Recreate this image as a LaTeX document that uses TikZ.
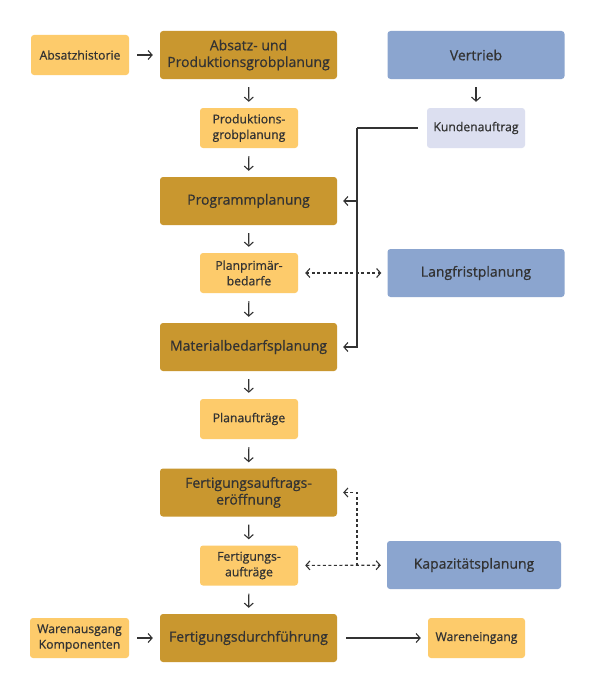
\documentclass[tikz,border=0pt]{standalone}
\usepackage{fontspec}
\setmainfont{Open Sans}
\newfontfamily\semib{Open Sans}[FakeBold=0.7]
\usetikzlibrary{arrows.meta}
\definecolor{dgold}{HTML}{C9972F}
\definecolor{lyel}{HTML}{FDCB6B}
\definecolor{bblue}{HTML}{8BA5CF}
\definecolor{lblue}{HTML}{DCDFF0}
\definecolor{txt}{HTML}{333333}
\tikzset{
  x=1pt,y=-1pt,
  bigbox/.style={fill=dgold,draw=none,rounded corners=3pt,minimum width=177pt,minimum height=48pt,align=center,text=txt,font=\semib\fontsize{14}{16.7}\selectfont,inner sep=0pt},
  bluebox/.style={bigbox,fill=bblue},
  smallbox/.style={fill=lyel,draw=none,rounded corners=3pt,minimum width=98pt,minimum height=40pt,align=center,text=txt,font=\semib\fontsize{12.2}{15.6}\selectfont,inner sep=0pt},
  lavbox/.style={smallbox,fill=lblue},
  conn/.style={draw=txt,line width=1.1pt,-{Straight Barb[length=4pt,width=9pt]}},
  dconn/.style={conn,dashed,dash pattern=on 3pt off 2.5pt,{Straight Barb[length=4pt,width=9pt]}-{Straight Barb[length=4pt,width=9pt]}},
  dconnone/.style={conn,dashed,dash pattern=on 3pt off 2.5pt},
}
\begin{document}
\begin{tikzpicture}
\useasboundingbox[fill=white] (0,0) rectangle (595,693);
\node[smallbox] (ah) at (80,55) {Absatzhistorie};
\node[bigbox] (apg) at (248.5,55) {Absatz- und\\Produktionsgrobplanung};
\node[bluebox] (vt) at (476,55) {Vertrieb};
\node[smallbox] (pg) at (249,128) {Produktions-\\grobplanung};
\node[lavbox] (ka) at (476,128) {Kundenauftrag};
\node[bigbox] (pp) at (248.5,201) {Programmplanung};
\node[smallbox] (ppb) at (249,273) {Planprimär-\\bedarfe};
\node[bluebox] (lf) at (476,273) {Langfristplanung};
\node[bigbox] (mbp) at (248.5,347) {Materialbedarfsplanung};
\node[smallbox] (pa) at (249,419) {Planaufträge};
\node[bigbox] (fae) at (248.5,492.5) {Fertigungsauftrags-\\eröffnung};
\node[smallbox] (fa) at (249,565.5) {Fertigungs-\\aufträge};
\node[bluebox,minimum width=174pt] (kp) at (474,565) {Kapazitätsplanung};
\node[smallbox,minimum width=99pt] (wk) at (79.5,638) {Warenausgang\\Komponenten};
\node[bigbox] (fd) at (248.5,638) {Fertigungsdurchführung};
\node[smallbox,minimum width=97pt] (we) at (476.5,638) {Wareneingang};
% vertical arrows
\draw[conn,shorten <=8pt,shorten >=6pt] (apg) -- (pg);
\draw[conn,shorten <=8pt,shorten >=6pt] (pg) -- (pp);
\draw[conn,shorten <=8pt,shorten >=6pt] (pp) -- (ppb);
\draw[conn,shorten <=8pt,shorten >=6pt] (ppb) -- (mbp);
\draw[conn,shorten <=8pt,shorten >=6pt] (mbp) -- (pa);
\draw[conn,shorten <=8pt,shorten >=6pt] (pa) -- (fae);
\draw[conn,shorten <=8pt,shorten >=6pt] (fae) -- (fa);
\draw[conn,shorten <=8pt,shorten >=6pt] (fa) -- (fd);
\draw[conn,shorten <=8pt,shorten >=6pt] (vt) -- (ka);
% horizontal arrows
\draw[conn,shorten <=8pt,shorten >=7pt] (ah) -- (apg);
\draw[conn,shorten <=8pt,shorten >=7pt] (wk) -- (fd);
\draw[conn,shorten <=9pt,shorten >=7pt] (fd) -- (we);
% Kundenauftrag line
\coordinate (kx) at (357,128);
\draw[draw=txt,line width=1.1pt] ([xshift=-9pt]ka.west) -- (kx);
\draw[conn,shorten >=6pt] (kx) |- (mbp.east);
\draw[conn,shorten >=6pt] (kx |- pp.east) -- (pp.east);
% dashed
\draw[dconn,shorten <=7pt,shorten >=6pt] (ppb) -- (lf);
\draw[dconn,shorten <=7pt,shorten >=6pt] (fa) -- (kp);
\coordinate (kd) at (357,565.5);
\draw[dconnone,shorten >=6pt] (kd) |- (fae.east);
\end{tikzpicture}
\end{document}
